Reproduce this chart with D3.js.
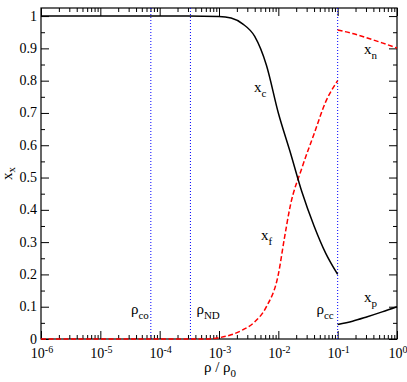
<!DOCTYPE html>
<html>
<head>
<meta charset="utf-8">
<script src="https://cdn.jsdelivr.net/npm/d3@7"></script>
<style>
  body { margin: 0; background: #fff; }
</style>
</head>
<body>
<script>
// values
const rhoC = [1e-6, 3e-4, 1e-3, 1.6e-3, 2.5e-3, 4e-3, 6.3e-3, 1e-2, 1.58e-2, 2.5e-2, 4e-2, 6.3e-2, 0.1];
const xC   = [1, 1, 0.999, 0.994, 0.976, 0.937, 0.848, 0.70, 0.58, 0.455, 0.35, 0.265, 0.20];

const rhoF = [1e-6, 6e-4, 1e-3, 1.6e-3, 2.5e-3, 4e-3, 6.3e-3, 1e-2, 1.26e-2, 1.58e-2, 2.5e-2, 4e-2, 6.3e-2, 0.1];
const xF   = [0, 0, 0.004, 0.013, 0.028, 0.053, 0.10, 0.20, 0.31, 0.41, 0.53, 0.635, 0.735, 0.80];

const rhoHi = [0.1, 0.178, 0.316, 0.562, 1];
const xN    = [0.957, 0.946, 0.932, 0.917, 0.901];
const xP    = [0.045, 0.055, 0.069, 0.084, 0.10];

const markRho  = [7.1e-5, 3.3e-4, 0.1];
const markName = ["co", "ND", "cc"];

const xTickExp = [-6, -5, -4, -3, -2, -1, 0];
const yTicks = [0, 0.1, 0.2, 0.3, 0.4, 0.5, 0.6, 0.7, 0.8, 0.9, 1];

const FONT = "'Liberation Serif', 'DejaVu Serif', 'Times New Roman', serif";
const W = 407, H = 382;
const m = {left: 41, right: 10, top: 8, bottom: 43};

const svg = d3.select("body").append("svg").attr("width", W).attr("height", H)
  .attr("font-family", FONT);

const x = d3.scaleLog().domain([1e-6, 1]).range([m.left, W - m.right]);
const y = d3.scaleLinear().domain([0, 1.025]).range([H - m.bottom, m.top]);

// ticks
const majorX = xTickExp.map(e => Math.pow(10, e));
const minorX = [];
xTickExp.slice(0, -1).forEach(e => { for (let k = 2; k <= 9; k++) minorX.push(k * Math.pow(10, e)); });
const minorY = d3.range(0.05, 1.0, 0.1);

function axisG(axis, tx, ty) {
  const g = svg.append("g").attr("transform", `translate(${tx},${ty})`).call(axis);
  g.select(".domain").remove();
  g.selectAll("line").attr("stroke", "#000").attr("stroke-width", 1);
  return g;
}
const bottomY = H - m.bottom, rightX = W - m.right;
axisG(d3.axisBottom(x).tickValues(majorX).tickSize(-8).tickFormat(""), 0, bottomY);
axisG(d3.axisBottom(x).tickValues(minorX).tickSize(-4).tickFormat(""), 0, bottomY);
axisG(d3.axisTop(x).tickValues(majorX).tickSize(-8).tickFormat(""), 0, m.top);
axisG(d3.axisTop(x).tickValues(minorX).tickSize(-4).tickFormat(""), 0, m.top);
axisG(d3.axisLeft(y).tickValues(yTicks).tickSize(-8).tickFormat(""), m.left, 0);
axisG(d3.axisLeft(y).tickValues(minorY).tickSize(-4).tickFormat(""), m.left, 0);
axisG(d3.axisRight(y).tickValues(yTicks).tickSize(-8).tickFormat(""), rightX, 0);
axisG(d3.axisRight(y).tickValues(minorY).tickSize(-4).tickFormat(""), rightX, 0);

svg.append("rect")
  .attr("x", m.left).attr("y", m.top)
  .attr("width", rightX - m.left).attr("height", bottomY - m.top)
  .attr("fill", "none").attr("stroke", "#000").attr("stroke-width", 1.2);

// tick labels
xTickExp.forEach(e => {
  const t = svg.append("text").attr("x", x(Math.pow(10, e)) + 1).attr("y", 357.5)
    .attr("text-anchor", "middle").attr("font-size", 14);
  t.append("tspan").text("10");
  t.append("tspan").attr("dy", -5).attr("font-size", 10).text(e === 0 ? "0" : "-" + (-e));
});
yTicks.forEach(v => {
  svg.append("text").attr("x", 37).attr("y", y(v) + 4.5)
    .attr("text-anchor", "end").attr("font-size", 14)
    .text(v === 0 ? "0" : v === 1 ? "1" : d3.format(".1f")(v));
});

// axis titles
const yt = svg.append("text").attr("transform", "translate(12,173.5) rotate(-90)")
  .attr("text-anchor", "middle").attr("font-size", 15);
yt.append("tspan").text("x");
yt.append("tspan").attr("dy", 3).attr("font-size", 11).text("x");

const xt = svg.append("text").attr("x", 220).attr("y", 372)
  .attr("text-anchor", "middle").attr("font-size", 15);
xt.append("tspan").text("ρ / ρ");
xt.append("tspan").attr("dy", 5).attr("font-size", 11).text("0");

// marker lines
markRho.forEach(r => {
  svg.append("line")
    .attr("x1", x(r)).attr("x2", x(r)).attr("y1", m.top).attr("y2", bottomY)
    .attr("stroke", "#0000ff").attr("stroke-width", 1).attr("stroke-dasharray", "1,2");
});
const markOffset = [{dx: -2, anchor: "end"}, {dx: 6, anchor: "start"}, {dx: -4, anchor: "end"}];
markRho.forEach((r, i) => {
  const t = svg.append("text").attr("x", x(r) + markOffset[i].dx).attr("y", 314)
    .attr("text-anchor", markOffset[i].anchor).attr("font-size", 15);
  t.append("tspan").text("ρ");
  t.append("tspan").attr("dy", 5).attr("font-size", 11).text(markName[i]);
});

// curves
const line = d3.line().x(d => x(d[0])).y(d => y(d[1])).curve(d3.curveMonotoneX);
function curve(rs, vs, dashed) {
  svg.append("path").datum(rs.map((r, i) => [r, vs[i]]))
    .attr("d", line).attr("fill", "none")
    .attr("stroke", dashed ? "#ff0000" : "#000")
    .attr("stroke-width", 1.5)
    .attr("stroke-dasharray", dashed ? "5,2.5" : null);
}
curve(rhoF, xF, true);
curve(rhoC, xC, false);
curve(rhoHi, xN, true);
curve(rhoHi, xP, false);

// curve labels
function label(px, py, sub) {
  const t = svg.append("text").attr("x", px).attr("y", py).attr("font-size", 15);
  t.append("tspan").text("x");
  t.append("tspan").attr("dy", 5).attr("font-size", 11).text(sub);
}
label(254, 92, "c");
label(261, 240, "f");
label(364, 54, "n");
label(364, 302, "p");
</script>
</body>
</html>
